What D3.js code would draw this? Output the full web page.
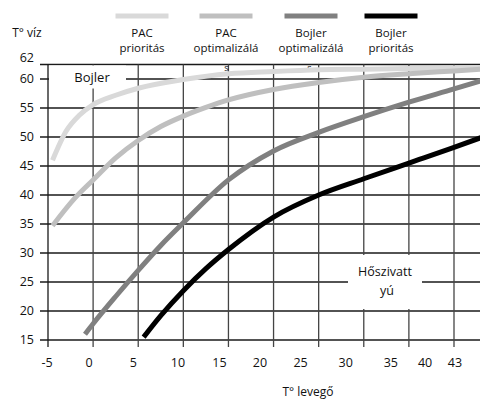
<!DOCTYPE html>
<html>
<head>
<meta charset="utf-8">
<script src="https://cdn.jsdelivr.net/npm/d3@7"></script>
<style>
  body { margin: 0; background: #fff; }
  text { font-family: "Open Sans", sans-serif; fill: #111; }
</style>
</head>
<body>
<svg width="480" height="399"></svg>
<script>
// series
const seriesNames = ["PAC prioritás", "PAC optimalizálá", "Bojler optimalizálá", "Bojler prioritás"];
const legendText = [["PAC", "prioritás"], ["PAC", "optimalizálá"], ["Bojler", "optimalizálá"], ["Bojler", "prioritás"]];
const seriesColors = ["#d9d9d9", "#bfbfbf", "#808080", "#000000"];

// T° levegő / T° víz
const pacPriorX = [-4.5, -3, -1.5, 0, 2.5, 5, 10, 15, 20, 25, 30, 35, 40, 43];
const pacPriorY = [46, 51, 53.8, 55.6, 57.2, 58.4, 59.9, 60.9, 61.3, 61.6, 61.7, 61.8, 61.9, 62];
const pacOptX = [-4.5, -2, 0, 2.5, 5, 7.5, 10, 12.5, 15, 20, 25, 30, 35, 40, 43];
const pacOptY = [34.7, 39.5, 42.6, 46.4, 49.4, 51.8, 53.6, 55.1, 56.4, 58.2, 59.4, 60.3, 60.9, 61.4, 61.7];
const bojOptX = [-0.9, 0, 2.5, 5, 7.5, 10, 15, 20, 25, 30, 35, 40, 43];
const bojOptY = [16, 17.8, 22.5, 27, 31.3, 35.2, 42.6, 47.6, 50.8, 53.5, 56, 58.3, 59.7];
const bojPriorX = [5.6, 7.5, 10, 12.5, 15, 20, 25, 30, 35, 40, 43];
const bojPriorY = [15.5, 19.2, 23.5, 27.3, 30.6, 36.2, 40, 42.8, 45.5, 48.2, 49.9];

// axes
const xGrid = [-5, 0, 5, 10, 15, 20, 25, 30, 35, 40];
const xLabels = ["-5", "0", "5", "10", "15", "20", "25", "30", "35", "40", "43"];
const xLabelAt = [-5.1, -0.45, 4.45, 9.4, 14, 18.5, 23, 28, 33, 36.8, 40.1]; // labels sit off the grid in the original
const yTicks = [15, 20, 25, 30, 35, 40, 45, 50, 55, 60];
const yTop = 62.5;

const svg = d3.select("svg");
const x = d3.scaleLinear().domain([-5, 40]).range([48, 454]);
const y = d3.scaleLinear().domain([15, yTop]).range([340, 64.5]);
const right = 480;

// horizontal grid (incl. top border), with small ticks left of the axis
svg.append("g").selectAll("line")
    .data(yTicks.concat([yTop]))
    .enter().append("line")
    .attr("x1", 40).attr("x2", right)
    .attr("y1", d => y(d)).attr("y2", d => y(d))
    .attr("stroke", "#1a1a1a").attr("stroke-width", 1.3);

// vertical grid, with ticks below the axis
svg.append("g").selectAll("line")
    .data(xGrid)
    .enter().append("line")
    .attr("x1", d => x(d)).attr("x2", d => x(d))
    .attr("y1", y(yTop)).attr("y2", 347)
    .attr("stroke", d => d === -5 ? "#1a1a1a" : "#444").attr("stroke-width", 1.3);

// y labels
svg.append("g").selectAll("text")
    .data(yTicks)
    .enter().append("text")
    .attr("x", 34).attr("y", d => y(d)).attr("dy", "0.35em")
    .attr("text-anchor", "end").style("font-size", "12.5px")
    .text(d => d);
svg.append("text").attr("x", 34).attr("y", 58).attr("dy", "0.35em")
    .attr("text-anchor", "end").style("font-size", "12.5px").text("62");

// x labels
svg.append("g").selectAll("text")
    .data(xLabels)
    .enter().append("text")
    .attr("x", (d, i) => x(xLabelAt[i])).attr("y", 363).attr("dy", "0.35em")
    .attr("text-anchor", "middle").style("font-size", "12.5px")
    .text(d => d);

// axis titles
svg.append("text").attr("x", 27).attr("y", 33).attr("dy", "0.35em")
    .attr("text-anchor", "middle").style("font-size", "12px").text("T° víz");
svg.append("text").attr("x", 308).attr("y", 392).attr("dy", "0.35em")
    .attr("text-anchor", "middle").style("font-size", "12px").text("T° levegő");

// white label boxes that cut the grid
svg.append("rect").attr("x", 49).attr("y", 65.5).attr("width", 77).attr("height", 23).attr("fill", "#fff");
svg.append("rect").attr("x", 348).attr("y", 255).attr("width", 74).attr("height", 54).attr("fill", "#fff");

svg.append("text").attr("x", 92).attr("y", 77).attr("dy", "0.35em")
    .attr("text-anchor", "middle").style("font-size", "13px").text("Bojler");
svg.append("text").attr("x", 385).attr("y", 272).attr("dy", "0.35em")
    .attr("text-anchor", "middle").style("font-size", "12.5px").text("Hőszivatt");
svg.append("text").attr("x", 387).attr("y", 291).attr("dy", "0.35em")
    .attr("text-anchor", "middle").style("font-size", "12.5px").text("yú");

// stray clipped letters near the top
svg.append("g").selectAll("text")
    .data([15, 24.2])
    .enter().append("text")
    .attr("x", d => x(d) - 2).attr("y", 68).attr("dy", "0.35em")
    .attr("text-anchor", "middle").style("font-size", "9px").text("s");

// curves
svg.append("clipPath").attr("id", "plot")
    .append("rect").attr("x", 48).attr("y", 60).attr("width", right - 48).attr("height", 280);

const series = [
    { xs: pacPriorX, ys: pacPriorY },
    { xs: pacOptX, ys: pacOptY },
    { xs: bojOptX, ys: bojOptY },
    { xs: bojPriorX, ys: bojPriorY }
];
const line = d3.line()
    .x(d => x(d[0]))
    .y(d => y(d[1]))
    .curve(d3.curveMonotoneX);

svg.append("g").attr("clip-path", "url(#plot)")
    .selectAll("path")
    .data(series)
    .enter().append("path")
    .attr("d", s => line(s.xs.map((v, i) => [v, s.ys[i]])))
    .attr("fill", "none")
    .attr("stroke", (s, i) => seriesColors[i])
    .attr("stroke-width", 5);

// legend
const legendX = [142, 226, 311, 391];
const legend = svg.append("g").selectAll("g")
    .data(seriesNames)
    .enter().append("g")
    .attr("transform", (d, i) => "translate(" + legendX[i] + ",0)");
legend.append("line")
    .attr("x1", -26.5).attr("x2", 26.5).attr("y1", 16).attr("y2", 16)
    .attr("stroke", (d, i) => seriesColors[i]).attr("stroke-width", 5);
legend.append("text")
    .attr("y", 33).attr("dy", "0.35em").attr("text-anchor", "middle").style("font-size", "11.5px")
    .text((d, i) => legendText[i][0]);
legend.append("text")
    .attr("y", 48).attr("dy", "0.35em").attr("text-anchor", "middle").style("font-size", "11.5px")
    .text((d, i) => legendText[i][1]);
</script>
</body>
</html>
